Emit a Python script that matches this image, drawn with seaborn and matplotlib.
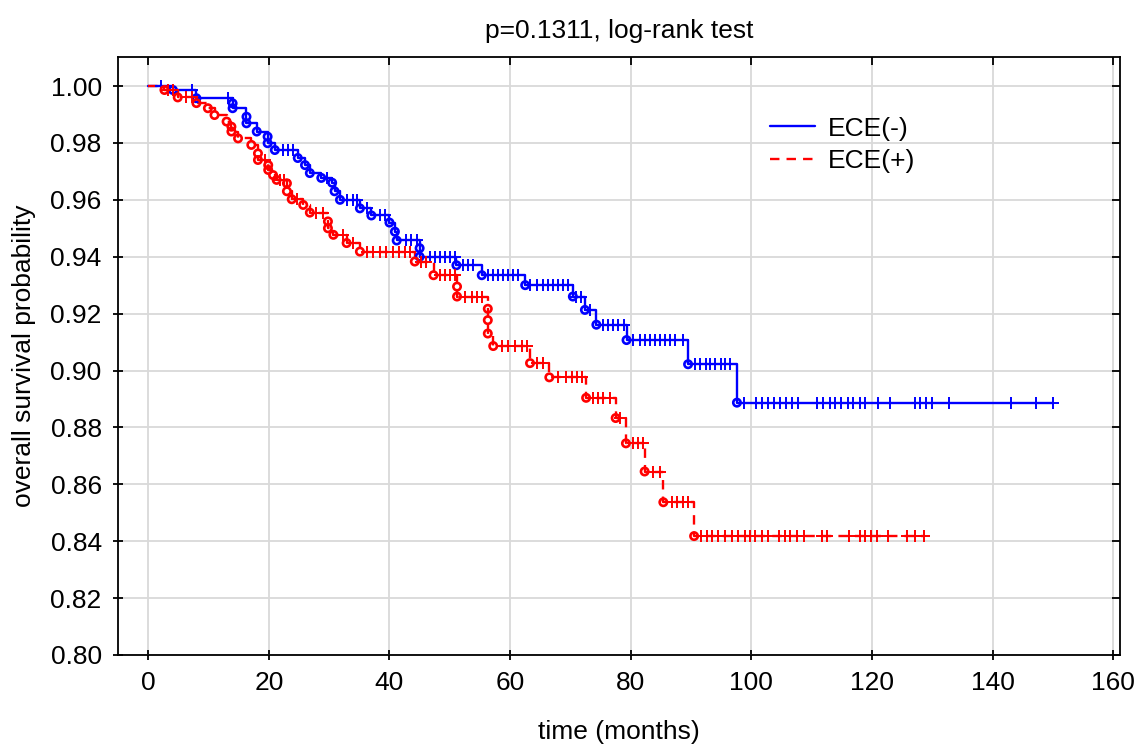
import numpy as np
import pandas as pd
import seaborn as sns
import matplotlib
matplotlib.use('Agg')
import matplotlib.pyplot as plt
from matplotlib.lines import TICKDOWN, TICKLEFT

# ECE(-): event times (months) and survival after each event
neg_event_t = [4.1, 8.0, 14.0, 14.0, 16.3, 16.3, 18.0, 19.8, 19.8, 21.0, 24.8, 26.0, 26.8, 28.7,
               30.5, 30.9, 31.8, 35.1, 37.0, 40.0, 40.9, 41.2, 45.0, 45.0, 51.1, 55.3, 62.5,
               70.4, 72.4, 74.3, 79.3, 89.5, 97.6]
neg_event_s = [0.9986, 0.9957, 0.9939, 0.9922, 0.9892, 0.9869, 0.9840, 0.9822, 0.9799, 0.9775,
               0.9747, 0.9722, 0.9694, 0.9677, 0.9660, 0.9630, 0.9600, 0.9570, 0.9545, 0.9520,
               0.9488, 0.9457, 0.9430, 0.9400, 0.9370, 0.9335, 0.9300, 0.9260, 0.9213, 0.9161,
               0.9107, 0.9022, 0.8887]
neg_censor_t = [2.2, 7.2, 13.2, 22.4, 23.2, 24.0, 29.6, 33.0, 34.0, 34.6, 36.2, 38.4, 39.2, 42.8,
                43.6, 44.5, 46.7, 47.5, 48.3, 49.2, 50.0, 50.8, 52.2, 53.0, 53.9, 56.3, 57.1, 58.0,
                58.8, 59.6, 60.5, 61.3, 63.3, 64.4, 65.5, 66.3, 67.1, 67.9, 68.8, 69.6, 71.0, 71.8,
                73.2, 75.4, 76.2, 77.0, 77.9, 78.8, 80.4, 81.5, 82.3, 83.2, 84.0, 84.8, 85.7, 86.5,
                87.3, 88.7, 90.7, 91.5, 92.4, 93.2, 94.0, 94.9, 95.7, 96.5, 98.7, 100.8, 101.7,
                102.8, 103.7, 104.7, 105.7, 106.7, 107.8, 110.8, 111.9, 113.0, 113.8, 114.9, 116.0,
                116.9, 118.0, 118.8, 121.0, 122.9, 127.1, 127.9, 129.0, 130.0, 132.8, 143.0, 147.1,
                150.0]

# ECE(+)
pos_event_t = [2.7, 4.9, 8.0, 9.9, 11.0, 13.0, 13.8, 13.8, 14.9, 17.1, 18.2, 18.2, 19.9, 19.9,
               20.7, 21.3, 23.0, 23.0, 23.8, 25.7, 26.8, 29.8, 29.8, 30.7, 32.9, 35.1, 44.2,
               47.3, 51.2, 51.2, 56.3, 56.3, 56.3, 57.2, 63.3, 66.5, 72.6, 77.5, 79.2, 82.3,
               85.4, 90.5]
pos_event_s = [0.9986, 0.9960, 0.9940, 0.9922, 0.9898, 0.9875, 0.9857, 0.9840, 0.9816, 0.9793,
               0.9763, 0.9740, 0.9722, 0.9705, 0.9687, 0.9670, 0.9658, 0.9630, 0.9602, 0.9582,
               0.9555, 0.9524, 0.9500, 0.9477, 0.9448, 0.9418, 0.9383, 0.9335, 0.9295, 0.9260,
               0.9217, 0.9177, 0.9130, 0.9086, 0.9026, 0.8976, 0.8904, 0.8833, 0.8744, 0.8645,
               0.8537, 0.8418]
pos_censor_t = [3.3, 4.1, 6.3, 7.2, 19.3, 21.8, 22.6, 24.6, 27.9, 29.0, 32.3, 34.0, 36.2, 37.3,
                38.4, 39.5, 40.6, 41.5, 42.6, 43.4, 45.3, 46.1, 48.3, 49.2, 50.0, 50.8, 52.5, 53.6,
                54.5, 55.3, 58.6, 59.7, 60.8, 61.9, 62.8, 64.5, 65.5, 68.0, 69.2, 70.3, 71.1, 71.9,
                73.8, 74.6, 75.4, 76.6, 78.2, 80.4, 81.2, 82.0, 83.7, 84.8, 86.8, 87.6, 88.7, 89.5,
                91.7, 92.6, 93.4, 94.5, 95.6, 96.7, 97.8, 99.0, 99.8, 100.6, 101.7, 102.8, 104.5,
                105.6, 106.4, 107.6, 108.7, 111.7, 112.5, 116.1, 118.0, 118.9, 119.9, 120.8, 122.7,
                125.8, 127.2, 128.6]

groups = ['ECE(-)', 'ECE(+)']
colors = {'ECE(-)': '#0000ff', 'ECE(+)': '#ff0000'}
x_ticks = [0, 20, 40, 60, 80, 100, 120, 140, 160]
y_ticks = [0.80, 0.82, 0.84, 0.86, 0.88, 0.90, 0.92, 0.94, 0.96, 0.98, 1.00]


def km_frames(ev_t, ev_s, cen_t, name):
    end_t = max(max(cen_t), max(ev_t))
    line = pd.DataFrame({'t': [0.0] + ev_t + [end_t],
                         's': [1.0] + ev_s + [ev_s[-1]], 'group': name})
    idx = np.searchsorted(ev_t, cen_t, side='right')
    lvl = np.r_[1.0, ev_s]
    cens = pd.DataFrame({'t': cen_t, 's': lvl[idx], 'group': name})
    ev = pd.DataFrame({'t': ev_t, 's': ev_s, 'group': name})
    return line, cens, ev


sns.set_style('white')
plt.rcParams['font.family'] = ['Liberation Sans', 'DejaVu Sans']
plt.rcParams['text.color'] = 'black'
plt.rcParams['axes.labelcolor'] = 'black'
plt.rcParams['xtick.color'] = 'black'
plt.rcParams['ytick.color'] = 'black'

fs = 19
fig = plt.figure(figsize=(11.42, 7.44), dpi=100)
ax = fig.add_axes([118 / 1142, 1 - 655 / 744, (1120 - 118) / 1142, (655 - 57) / 744])

data = {'ECE(-)': km_frames(neg_event_t, neg_event_s, neg_censor_t, 'ECE(-)'),
        'ECE(+)': km_frames(pos_event_t, pos_event_s, pos_censor_t, 'ECE(+)')}

for g in groups:
    line, cens, ev = data[g]
    c = colors[g]
    ls = '-' if g == 'ECE(-)' else (0, (4, 3))
    sns.lineplot(data=line, x='t', y='s', ax=ax, color=c, linewidth=1.7, linestyle=ls,
                 drawstyle='steps-post', sort=False, estimator=None, label=g, zorder=3)
    sns.scatterplot(data=cens, x='t', y='s', ax=ax, marker='+', color=c, s=65,
                    linewidth=1.4, zorder=4, legend=False)
    sns.scatterplot(data=ev, x='t', y='s', ax=ax, marker='o', facecolor='none',
                    edgecolor=c, s=28, linewidth=1.9, zorder=4, legend=False)

ax.set_xlim(-5, 161.1)
ax.set_ylim(0.80, 1.0102)
ax.set_xticks(x_ticks)
ax.set_yticks(y_ticks)
ax.set_yticklabels([f'{v:.2f}' for v in y_ticks])
ax.grid(True, color='#d9d9d9', linewidth=1.3)
ax.set_axisbelow(True)
for sp in ax.spines.values():
    sp.set_color('black')
    sp.set_linewidth(1.3)
ax.tick_params(axis='both', direction='inout', length=7.5, width=1.3, labelsize=fs,
               pad=8, bottom=True, left=True, top=True, right=True)

# top and right ticks point inward only
for t in ax.xaxis.get_major_ticks():
    t.tick2line.set_marker(TICKDOWN)
    t.tick2line.set_markersize(5.5)
for t in ax.yaxis.get_major_ticks():
    t.tick2line.set_marker(TICKLEFT)
    t.tick2line.set_markersize(5.5)

ax.set_xlabel('time (months)', fontsize=fs, labelpad=18)
ax.set_ylabel('overall survival probability', fontsize=fs, labelpad=10)
ax.set_title('p=0.1311, log-rank test', fontsize=fs, pad=14)

leg = ax.legend(loc='upper left', bbox_to_anchor=(0.627, 0.94), frameon=False, fontsize=fs,
                handlelength=1.7, handletextpad=0.5, labelspacing=0.32)

fig.savefig('out.png', dpi=100)
